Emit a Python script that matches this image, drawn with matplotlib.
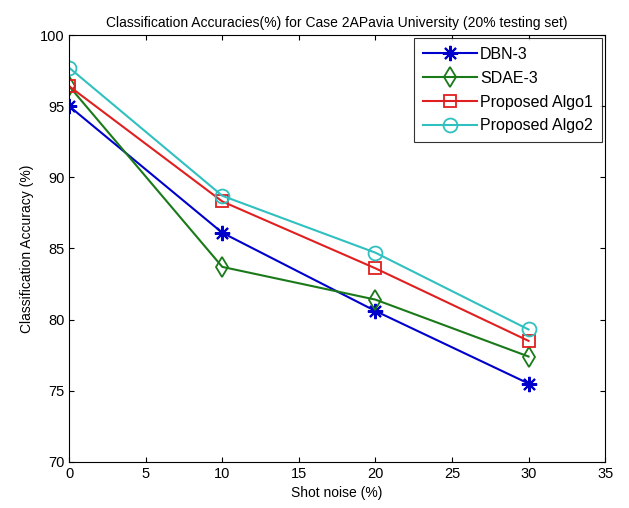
import numpy as np
import matplotlib.pyplot as plt

plt.rcParams['font.family'] = ['Liberation Sans', 'DejaVu Sans']

noise = [0, 10, 20, 30]
dbn3 = [95.0, 86.1, 80.6, 75.5]
sdae3 = [96.4, 83.7, 81.4, 77.4]
algo1 = [96.4, 88.3, 83.6, 78.5]
algo2 = [97.7, 88.7, 84.7, 79.3]

fig = plt.figure(figsize=(6.29, 5.08), dpi=100)
ax = fig.add_axes([0.110, 0.091, 0.852, 0.840])

ax.plot(noise, dbn3, color='#0000cc', marker=(8, 2, 0), markersize=11, mew=1.5, lw=1.5, label='DBN-3')
ax.plot(noise, sdae3, color='#1a7a1a', marker='d', markersize=10, mfc='none', mew=1.3, lw=1.5, label='SDAE-3')
ax.plot(noise, algo1, color='#e02020', marker='s', markersize=9, mfc='none', mew=1.3, lw=1.5, label='Proposed Algo1')
ax.plot(noise, algo2, color='#30c0c0', marker='o', markersize=10, mfc='none', mew=1.3, lw=1.5, label='Proposed Algo2')

ax.set_xlim(0, 35)
ax.set_ylim(70, 100)
ax.set_xticks(np.arange(0, 36, 5))
ax.set_yticks(np.arange(70, 101, 5))
ax.tick_params(direction='in', top=True, right=True, labelsize=10.5)
ax.set_xlabel('Shot noise (%)', fontsize=10)
ax.set_ylabel('Classification Accuracy (%)', fontsize=10)
ax.set_title('Classification Accuracies(%) for Case 2APavia University (20% testing set)', fontsize=10)
leg = ax.legend(loc='upper right', fontsize=11.5, fancybox=False, edgecolor='black',
                handlelength=3.4, borderaxespad=0.2, labelspacing=0.55,
                handletextpad=0.2, borderpad=0.55)
leg.get_frame().set_linewidth(0.8)

fig.savefig('out.png', dpi=100)
